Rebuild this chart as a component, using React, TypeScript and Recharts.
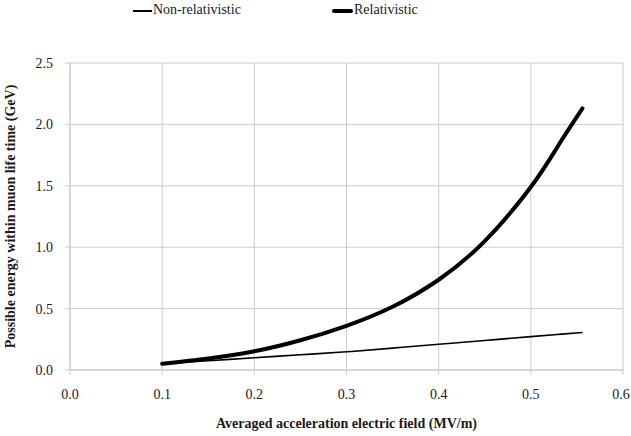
import { LineChart, Line, XAxis, YAxis, CartesianGrid, Legend, Label } from 'recharts';

const fieldMVm = [0.1, 0.15, 0.2, 0.25, 0.3, 0.35, 0.4, 0.45, 0.5, 0.53, 0.556];
const nonRelGeV = [0.051, 0.075, 0.1, 0.124, 0.148, 0.178, 0.21, 0.24, 0.272, 0.29, 0.306];
const relGeV = [0.05, 0.093, 0.152, 0.242, 0.36, 0.515, 0.735, 1.05, 1.49, 1.83, 2.13];
const xTicks = [0, 0.1, 0.2, 0.3, 0.4, 0.5, 0.6];
const yTicks = [0, 0.5, 1.0, 1.5, 2.0, 2.5];

const data = fieldMVm.map((f, i) => ({ field: f, nonRel: nonRelGeV[i], rel: relGeV[i] }));

const FONT = '"Liberation Serif", "Times New Roman", serif';
const GRID = '#cccccc';
const INK = '#1a1a1a';

function LegendBox() {
  return (
    <div style={{ position: 'relative', width: 631, height: 22, fontFamily: FONT, fontSize: 14, color: INK }}>
      <span style={{ position: 'absolute', left: 133, top: 10, width: 19, height: 2, background: '#000' }} />
      <span style={{ position: 'absolute', left: 153, top: 2, lineHeight: '16px' }}>Non-relativistic</span>
      <span style={{ position: 'absolute', left: 332, top: 9, width: 21, height: 4, borderRadius: 2, background: '#000' }} />
      <span style={{ position: 'absolute', left: 354, top: 2, lineHeight: '16px' }}>Relativistic</span>
    </div>
  );
}

function XTick({ x, y, payload }: any) {
  return (
    <text x={x} y={y} dy={11} textAnchor="middle" fontSize={14} fill={INK} fontFamily={FONT}>
      {Number(payload.value).toFixed(1)}
    </text>
  );
}

function YTick({ x, y, payload }: any) {
  return (
    <text x={x} y={y} dy={5} textAnchor="end" fontSize={14} fill={INK} fontFamily={FONT}>
      {Number(payload.value).toFixed(1)}
    </text>
  );
}

export default function App() {
  return (
    <div style={{ position: 'absolute', left: 0, top: 0, background: '#fff', fontFamily: FONT }}>
      <LineChart width={631} height={436} data={data} margin={{ top: 41, right: 8, bottom: 0, left: 0 }} style={{ fontFamily: FONT }}>
        <CartesianGrid stroke={GRID} />
        <Legend verticalAlign="top" wrapperStyle={{ top: 0, left: 0 }} content={() => <LegendBox />} />
        <XAxis
          dataKey="field"
          type="number"
          domain={[0, 0.6]}
          ticks={xTicks}
          tick={<XTick />}
          stroke={GRID}
          tickSize={5}
          tickMargin={13}
          height={66}
        >
          <Label
            value="Averaged acceleration electric field (MV/m)"
            position="insideBottom"
            offset={8}
            style={{ fontSize: 14, fontWeight: 'bold', fill: INK, fontFamily: FONT }}
          />
        </XAxis>
        <YAxis
          type="number"
          domain={[0, 2.5]}
          ticks={yTicks}
          tick={<YTick />}
          stroke={GRID}
          tickSize={5}
          tickMargin={12}
          width={70}
        >
          <Label
            value="Possible energy within muon life time (GeV)"
            angle={-90}
            position="insideLeft"
            offset={10}
            style={{ fontSize: 14, fontWeight: 'bold', fill: INK, fontFamily: FONT, textAnchor: 'middle' }}
          />
        </YAxis>
        <Line type="natural" dataKey="nonRel" stroke="#000" strokeWidth={1.6} dot={false} isAnimationActive={false} />
        <Line type="natural" dataKey="rel" stroke="#000" strokeWidth={4} dot={false} strokeLinecap="round" isAnimationActive={false} />
      </LineChart>
    </div>
  );
}
